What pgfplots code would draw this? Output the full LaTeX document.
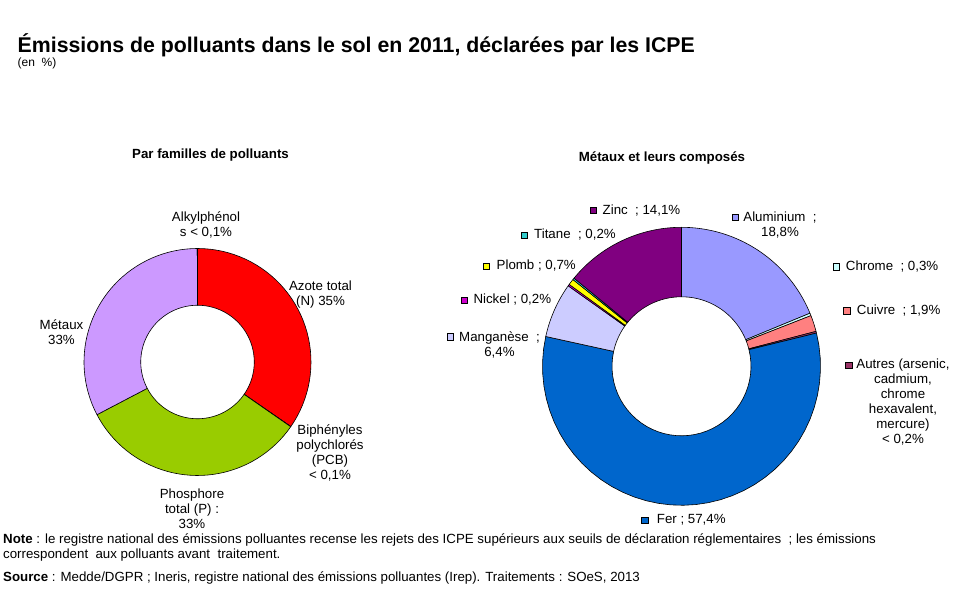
\documentclass[border=0pt]{standalone}
\usepackage{fontspec}
\setmainfont{Liberation Sans}
\usepackage{pgfplots}
\pgfplotsset{compat=1.18}
\usepackage{pgfplotstable}

\definecolor{cAzote}{HTML}{FF0000}
\definecolor{cPCB}{HTML}{333333}
\definecolor{cPhos}{HTML}{99CC00}
\definecolor{cMet}{HTML}{CC99FF}
\definecolor{cAlk}{HTML}{333333}
\definecolor{cAlu}{HTML}{9999FF}
\definecolor{cChr}{HTML}{CCFFFF}
\definecolor{cCui}{HTML}{FF8080}
\definecolor{cAut}{HTML}{993366}
\definecolor{cFer}{HTML}{0066CC}
\definecolor{cMan}{HTML}{CCCCFF}
\definecolor{cNic}{HTML}{CC00CC}
\definecolor{cPlo}{HTML}{FFFF00}
\definecolor{cTit}{HTML}{33CCCC}
\definecolor{cZin}{HTML}{800080}

% Par familles de polluants (clockwise from the top)
\pgfplotstableread[col sep=comma]{
label,value,color
Azote total,35,cAzote
PCB,0.03,cPCB
Phosphore total,33,cPhos
Metaux,33,cMet
Alkylphenols,0.03,cAlk
}\famtable

% Metaux et leurs composes (clockwise from the top)
\pgfplotstableread[col sep=comma]{
label,value,color
Aluminium,18.8,cAlu
Chrome,0.3,cChr
Cuivre,1.9,cCui
Autres,0.2,cAut
Fer,57.4,cFer
Manganese,6.4,cMan
Nickel,0.2,cNic
Plomb,0.7,cPlo
Titane,0.2,cTit
Zinc,14.1,cZin
}\mettable

\pgfplotsset{
  donutaxis/.style={scale only axis, hide axis, clip=false,
    xmin=-1, xmax=1, ymin=-1, ymax=1, anchor=center},
  sector/.style={draw=black, line width=0.6bp, mark=none, line join=round},
}

\newcommand\donut[2]{%
  \pgfplotstablegetrowsof{#1}\pgfmathtruncatemacro\nlast{\pgfplotsretval-1}%
  \def\total{0}%
  \pgfplotsforeachungrouped \i in {0,...,\nlast}{%
    \pgfplotstablegetelem{\i}{value}\of{#1}%
    \pgfmathsetmacro\total{\total+\pgfplotsretval}}%
  \def\cum{0}%
  \pgfplotsforeachungrouped \i in {0,...,\nlast}{%
    \pgfplotstablegetelem{\i}{value}\of{#1}\let\val\pgfplotsretval
    \pgfplotstablegetelem{\i}{color}\of{#1}\let\col\pgfplotsretval
    \pgfmathsetmacro\tha{90-360*(\cum/\total)}%
    \pgfmathsetmacro\cum{\cum+\val}%
    \pgfmathsetmacro\thb{90-360*(\cum/\total)}%
    \edef\next{\noexpand\addplot[sector, fill=\col, samples at={0,1,...,82}, variable=\noexpand\t]
      ({srad(\noexpand\t,#2)*cos(sang(\noexpand\t,\tha,\thb))},{srad(\noexpand\t,#2)*sin(sang(\noexpand\t,\tha,\thb))});}%
    \next
  }%
}

\newcommand\mk[3]{\filldraw[fill=#3,draw=black,line width=0.5bp] ({#1-3.2},{#2-3.2}) rectangle ({#1+3.2},{#2+3.2});}

\begin{document}
\begin{tikzpicture}[
  declare function={
    sang(\p,\q,\w)=ifthenelse(\p<40.5,\q+(\w-\q)*\p/40,ifthenelse(\p<81.5,\w+(\q-\w)*(\p-41)/40,\q));
    srad(\p,\w)=ifthenelse(\p<40.5,1,ifthenelse(\p<81.5,\w,1));
  }]
\path[use as bounding box] (0,0) rectangle (961bp,593bp);

\begin{axis}[donutaxis, at={(197.5bp,231bp)}, width=227bp, height=227bp]
  \donut{\famtable}{0.5}
\end{axis}

\begin{axis}[donutaxis, at={(681.5bp,226.7bp)}, width=278bp, height=278bp]
  \donut{\mettable}{0.5}
\end{axis}

\begin{scope}[x=1bp,y=1bp, every node/.style={inner sep=0pt, font=\fontsize{13.3bp}{15bp}\selectfont}]
  % titles
  \node[anchor=base west, font=\fontsize{21.3bp}{25bp}\selectfont\bfseries] at (17.5,540.7)
    {Émissions de polluants dans le sol en 2011, déclarées par les ICPE};
  \node[anchor=base west, font=\fontsize{12bp}{14bp}\selectfont] at (17.5,526) {(en~~\%)};
  \node[font=\fontsize{13.3bp}{15bp}\selectfont\bfseries] at (210.5,438) {Par familles de polluants};
  \node[font=\fontsize{13.3bp}{15bp}\selectfont\bfseries] at (662,434.7) {Métaux et leurs composés};

  % left labels
  \node[align=center] at (206,367.8) {Alkylphénol\\s < 0,1\%};
  \node[align=center] at (320.5,298.8) {Azote total\\(N) 35\%};
  \node[align=center] at (61.5,260.5) {Métaux\\33\%};
  \node[align=center] at (330,140.2) {Biphényles\\polychlorés\\(PCB)\\< 0,1\%};
  \node[align=center] at (192,84) {Phosphore\\total (P) :\\33\%};

  % right labels
  \mk{593.5}{382.5}{cZin}  \node[anchor=west] at (602.5,382.3) {Zinc ~; 14,1\%};
  \mk{524}{358}{cTit}      \node[anchor=west] at (534,358) {Titane ~; 0,2\%};
  \mk{486.5}{327}{cPlo}    \node[anchor=west] at (496.5,327) {Plomb ; 0,7\%};
  \mk{464.5}{293}{cNic}    \node[anchor=west] at (473.3,293) {Nickel ; 0,2\%};
  \mk{450.3}{256.3}{cMan}  \node[align=center] at (499.5,248) {Manganèse ~;\\6,4\%};
  \mk{735}{375.7}{cAlu}    \node[align=center] at (780,368) {Aluminium ~;\\18,8\%};
  \mk{836.3}{326.3}{cChr}  \node[anchor=west] at (845.7,326.3) {Chrome ~; 0,3\%};
  \mk{846.7}{282.3}{cCui}  \node[anchor=west] at (856.7,282.3) {Cuivre ~; 1,9\%};
  \mk{848.7}{228}{cAut}    \node[align=center] at (903,190.8) {Autres (arsenic,\\cadmium,\\chrome\\hexavalent,\\mercure)\\< 0,2\%};
  \mk{644.7}{73}{cFer}     \node[anchor=west] at (656.7,73) {Fer ; 57,4\%};

  % notes
  \node[anchor=west] at (3,53) {\textbf{Note} : le registre national des émissions polluantes recense les rejets des ICPE supérieurs aux seuils de déclaration réglementaires ~; les émissions};
  \node[anchor=west] at (3,38) {correspondent ~aux polluants avant ~traitement.};
  \node[anchor=west] at (3,15) {\textbf{Source} : Medde/DGPR ; Ineris, registre national des émissions polluantes (Irep). Traitements : SOeS, 2013};
\end{scope}
\end{tikzpicture}
\end{document}
